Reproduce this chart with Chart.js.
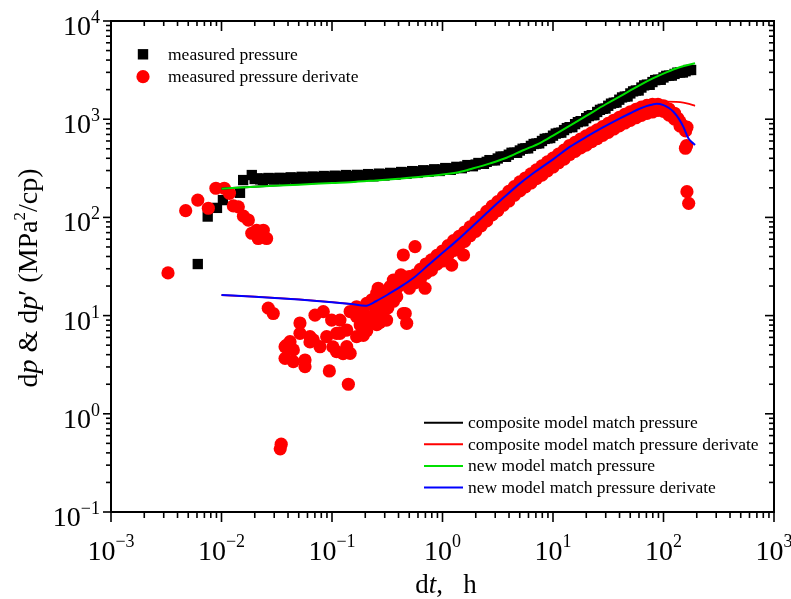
<!DOCTYPE html>
<html><head><meta charset="utf-8">
<script src="https://cdn.jsdelivr.net/npm/chart.js@4.4.1/dist/chart.umd.min.js"></script>
<style>html,body{margin:0;padding:0;background:#fff}#wrap{width:791px;height:599px}</style>
</head><body><div id="wrap"><canvas id="c" width="791" height="599"></canvas></div>
<script>
// ---------------- data ----------------
const xTickExponents = [-3, -2, -1, 0, 1, 2, 3];
const yTickExponents = [-1, 0, 1, 2, 3, 4];
const xTitle = ['d', 't', ',   h'];
const yTitle = ['d', 'p', ' & d', 'p', '\u2032 (MPa', '2', '/cp)'];

// measured pressure (squares)
const measuredPressureT = [0.0061,0.0075,0.0091,0.0103,0.0147,0.0157,0.0188,
 0.01995,0.02239,0.02512,0.02818,0.03162,0.03548,0.03981,0.04467,0.05012,0.05623,
 0.0631,0.07079,0.07943,0.08913,0.1,0.1122,0.1259,0.1413,0.1585,0.1778,
 0.1995,0.2239,0.2512,0.2818,0.3162,0.3548,0.3981,0.4467,0.5012,0.5623,
 0.631,0.7079,0.7943,0.8913,1,1.122,1.259,1.413,1.585,1.778,
 1.995,2.239,2.512,2.818,3.162,3.548,3.981,4.467,5.012,5.623,
 6.31,7.079,7.943,8.913,10,11.22,12.59,14.13,15.85,17.78,
 19.95,22.39,25.12,28.18,31.62,35.48,39.81,44.67,50.12,56.23,
 63.1,70.79,79.43,89.13,100,112.2,125.9,141.3,158.5,177.8,
 0.02113,0.02371,0.02661,0.02985,0.0335,0.03758,0.04217,0.04732,0.05309,0.05957,
 0.06683,0.07499,0.08414,0.09441,0.1059,0.1189,0.1334,0.1496,0.1679,0.1884,
 0.2113,0.2371,0.2661,0.2985,0.335,0.3758,0.4217,0.4732,0.5309,0.5957,
 0.6683,0.7499,0.8414,0.9441,1.059,1.189,1.334,1.496,1.679,1.884,
 2.113,2.371,2.661,2.985,3.35,3.758,4.217,4.732,5.309,5.957,
 6.683,7.499,8.414,9.441,10.59,11.89,13.34,14.96,16.79,18.84,
 21.13,23.71,26.61,29.85,33.5,37.58,42.17,47.32,53.09,59.57,
 66.83,74.99,84.14,94.41,105.9,118.9,133.4,149.6,167.9];
const measuredPressureV = [33.5,102,125,150,178,240,270,
 246,244,248,247,249,248,251,250,253,252,
 255,254,257,258,260,259,262,264,263,266,
 268,267,271,273,275,278,282,284,287,290,
 294,296,300,303,307,312,316,322,329,336,
 345,355,368,382,398,415,435,456,480,505,
 535,565,600,638,680,725,775,830,890,955,
 1025,1100,1185,1275,1370,1470,1580,1700,1830,1960,
 2100,2250,2390,2530,2660,2780,2890,2990,3080,3170,
 250,241,252,243,253,245,256,246,259,248,
 261,250,264,253,266,254,270,257,271,260,
 276,262,279,267,284,272,290,278,296,284,
 302,291,309,297,318,305,327,317,341,332,
 358,351,383,381,416,414,455,455,500,505,
 559,568,630,643,713,730,812,830,933,955,
 1075,1100,1245,1285,1440,1480,1665,1705,1920,1960,
 2210,2240,2500,2520,2760,2780,2980,2990,3170];

// measured pressure derivative (circles)
const measuredDerivT = [
 0.00328,0.00474,0.0061,0.0076,0.0089,0.0106,0.0118,0.0128,0.0142,0.0158,0.0175,0.0188,0.0208,0.0215,0.0239,0.0256,
 0.0265,0.0294,0.0340,0.0347,
 0.0376,0.0376,0.0389,0.0417,0.0447,0.0447,0.0513,0.0513,0.057,0.057,
 0.0632,0.0632,0.0677,0.0702,0.0779,0.0834,0.0895,0.0946,0.0993,0.102,
 0.110,0.110,0.118,0.118,0.126,0.136,0.136,0.1406,0.146,0.146,
 0.167,0.167,0.167,0.18,0.19,0.192,0.2,0.206,0.206,0.206,
 0.22,0.23,0.237,0.24,0.25,0.254,0.254,0.262,0.27,0.27,
 0.28,0.29,0.291,0.3,0.312,0.32,0.335,0.335,0.35,0.359,
 0.36,0.38,0.385,0.385,0.4,0.42,0.43,0.442,0.442,0.46,
 0.474,0.48,0.5,0.564,0.695,1.21,1.55,
 0.5012,0.5623,0.631,0.7079,0.7943,0.8913,1,1.122,1.259,1.413,
 1.585,1.778,1.995,2.239,2.512,2.818,3.162,3.548,3.981,4.467,
 5.012,5.623,6.31,7.079,7.943,8.913,10,11.22,12.59,14.13,
 15.85,17.78,19.95,22.39,25.12,28.18,31.62,35.48,39.81,44.67,
 50.12,56.23,63.1,70.79,79.43,
 0.5012,0.5623,0.631,0.7079,0.7943,0.8913,1,1.122,1.259,1.413,
 1.585,1.778,1.995,2.239,2.512,2.818,3.162,3.548,3.981,4.467,
 5.012,5.623,6.31,7.079,7.943,8.913,10,11.22,12.59,14.13,
 15.85,17.78,19.95,22.39,25.12,28.18,31.62,35.48,39.81,44.67,
 50.12,56.23,63.1,70.79,79.43,
 89.13,89.13,100,100,112.2,112.2,125.9,125.9,135,141.3,141.3,150,158.5,158.5,163,
 158,162,163,169];
const measuredDerivV = [
 27.2,117,150,124,198,198,176,131,128,103,94,69,74,61,74,61,
 11.9,10.5,0.44,0.49,
 4.82,3.67,5.0,5.42,4.47,3.4,8.4,6.6,3.53,3.02,
 6.1,5.4,5.65,10.1,4.82,10.96,6.1,2.73,9.0,4.8,
 6.6,4.29,9.0,6.6,4.1,7.13,4.82,2.0,4.13,11.0,
 6.1,9.75,12.3,8.0,11.5,6.3,10.0,8.35,13.3,7.0,
 9.7,14.5,9.75,12.5,10.2,16.9,8.1,19.0,13.5,8.5,
 17.0,9.0,11.4,14.5,9.0,12.0,16.9,19.7,18.0,23.0,
 14.0,18.5,15.6,23.0,20.0,26.0,21.0,10.5,41.4,10.5,
 8.35,22.5,25.0,50.3,19.0,32.7,41.4,
 24,26,29.5,33.5,37,41,45.5,51.5,58,64,
 71,80,90,101,115,130,145,163,184,206,
 230,252,278,305,335,368,402,440,485,540,
 580,628,675,725,780,840,905,975,1045,1120,
 1190,1260,1325,1380,1420,
 19,21.5,23.5,27,29,33.5,36,41.5,46,52,
 57,65,72,82,92,106,117,133,147,168,
 186,205,224,248,270,298,326,360,392,437,
 470,510,545,590,635,685,735,795,855,915,
 975,1035,1095,1145,1185,
 1420,1230,1370,1200,1270,1100,1150,1000,1020,940,850,860,800,760,830,
 506,540,183,139];

// model curves
const newDerivT = [0.01,0.02,0.05,0.1,0.15,0.2,0.25,0.335,0.45,0.564,0.75,0.95,1.3,1.6,2.0,2.69,3.6,5.03,7,10,14.3,20,28,40.4,50,60,70,80,87,100,112,123,137,151,160,168,180,193];
const newDerivV = [16.2,15.6,14.6,13.7,13.1,12.6,14.0,16.9,20.8,24.9,33,41.5,56,69,87,119,160,222,295,390,525,660,820,1020,1150,1270,1360,1415,1435,1390,1300,1192,1020,839,720,640,585,546];

const compDerivT = [0.01,0.02,0.05,0.1,0.15,0.2,0.25,0.335,0.45,0.564,0.75,0.95,1.3,1.6,2.0,2.69,3.6,5.03,7,10,14.3,20,28,40.4,50,60,70,80,90,107,130,151,170,193];
const compDerivV = [16.2,15.6,14.6,13.7,13.1,12.6,14.0,16.9,20.8,24.9,33,41.5,56,69,87,119,160,222,295,390,525,660,820,1020,1150,1275,1370,1425,1470,1507,1500,1475,1430,1370];

const newPresT = [0.01,0.015,0.03,0.05,0.1,0.146,0.25,0.4,0.7,1,1.43,1.9,2.7,3.8,5.3,7.7,10,15,20,30,40,60,80,106,140,193];
const newPresV = [196,202,210,215,224,228,238,248,262,274,290,316,355,405,480,575,680,890,1080,1420,1700,2200,2600,3000,3380,3710];

const compPresT = [0.01,0.015,0.03,0.1,0.4,1,2.7,5.3,10,20,40,80,140,193];
const compPresV = [196,202,211,228,256,288,365,490,690,1090,1680,2500,3050,3300];

// ---------------- rendering ----------------
const SERIF = "'Liberation Serif','Times New Roman',serif";
const pts = (ts, vs) => ts.map((t, i) => ({x: t, y: vs[i]}));

function drawRich(ctx, segs, x, y, align) {
  let w = 0;
  segs.forEach(s => { ctx.font = s.f; s.w = ctx.measureText(s.t).width; w += s.w; });
  let cx = align === 'center' ? x - w / 2 : align === 'right' ? x - w : x;
  ctx.textAlign = 'left';
  segs.forEach(s => { ctx.font = s.f; ctx.fillText(s.t, cx, y + (s.dy || 0)); cx += s.w; });
}
const expText = e => (e < 0 ? '\u2212' + (-e) : '' + e);

const axesPlugin = {
  id: 'axesPlugin',
  afterDraw(chart) {
    const {ctx, chartArea: a, scales: {x, y}} = chart;
    ctx.save();
    ctx.strokeStyle = '#000'; ctx.fillStyle = '#000';
    ctx.lineWidth = 2;
    ctx.strokeRect(a.left, a.top, a.right - a.left, a.bottom - a.top);
    const seg = (x1, y1, x2, y2) => { ctx.beginPath(); ctx.moveTo(x1, y1); ctx.lineTo(x2, y2); ctx.stroke(); };
    ctx.lineWidth = 1.6;
    for (let i = 0; i < xTickExponents.length; i++) {
      const e = xTickExponents[i];
      for (let m = 1; m < 10; m++) {
        if (i === xTickExponents.length - 1 && m > 1) break;
        const px = x.getPixelForValue(m * Math.pow(10, e));
        const major = m === 1;
        seg(px, a.bottom, px, a.bottom + (major ? 10 : 6));
        seg(px, a.top, px, a.top + (major ? 10 : 5));
      }
    }
    for (let i = 0; i < yTickExponents.length; i++) {
      const e = yTickExponents[i];
      for (let m = 1; m < 10; m++) {
        if (i === yTickExponents.length - 1 && m > 1) break;
        const py = y.getPixelForValue(m * Math.pow(10, e));
        const major = m === 1;
        seg(a.left, py, a.left - (major ? 8 : 5), py);
        seg(a.right, py, a.right - (major ? 9 : 5), py);
      }
    }
    ctx.textBaseline = 'alphabetic';
    xTickExponents.forEach(e => {
      const px = x.getPixelForValue(Math.pow(10, e));
      drawRich(ctx, [{t: '10', f: '28px ' + SERIF}, {t: expText(e), f: '18px ' + SERIF, dy: -13}], px, a.bottom + 48, 'center');
    });
    yTickExponents.forEach(e => {
      const py = y.getPixelForValue(Math.pow(10, e));
      drawRich(ctx, [{t: '10', f: '28px ' + SERIF}, {t: expText(e), f: '18px ' + SERIF, dy: -12}], a.left - 11, py + 14, 'right');
    });
    const tf = '27px ' + SERIF, ti = 'italic 27px ' + SERIF;
    drawRich(ctx, [{t: xTitle[0], f: tf}, {t: xTitle[1], f: ti}, {t: xTitle[2], f: tf}], 446, 593, 'center');
    ctx.save();
    ctx.translate(37, 278);
    ctx.rotate(-Math.PI / 2);
    const yf = '28px ' + SERIF, yi = 'italic 28px ' + SERIF;
    drawRich(ctx, [{t: yTitle[0], f: yf}, {t: yTitle[1], f: yi}, {t: yTitle[2], f: yf}, {t: yTitle[3], f: yi},
      {t: yTitle[4], f: yf}, {t: yTitle[5], f: '17px ' + SERIF, dy: -12}, {t: yTitle[6], f: yf}], 0, 0, 'center');
    ctx.restore();
    const lf = '17.5px ' + SERIF;
    ctx.font = lf;
    ctx.fillStyle = '#000';
    ctx.fillRect(143 - 5.2, 54.3 - 5.2, 10.4, 10.4);
    ctx.fillStyle = '#ff0000';
    ctx.beginPath(); ctx.arc(143, 76.7, 6.6, 0, Math.PI * 2); ctx.fill();
    ctx.fillStyle = '#000';
    ctx.fillText(chart.data.datasets[5].label, 168, 60);
    ctx.fillText(chart.data.datasets[4].label, 168, 82);
    [3, 2, 1, 0].forEach((di, r) => {
      const ds = chart.data.datasets[di];
      const ly = 422.7 + r * 21.6;
      ctx.strokeStyle = ds.borderColor; ctx.lineWidth = 2;
      seg(424, ly, 463, ly);
      ctx.fillStyle = '#000';
      ctx.fillText(ds.label, 468, ly + 5.5);
    });
    ctx.restore();
  }
};

new Chart(document.getElementById('c'), {
  type: 'scatter',
  data: {
    datasets: [
      {label: 'new model match pressure derivate', type: 'line', data: pts(newDerivT, newDerivV), borderColor: '#0000ff', borderWidth: 2, pointRadius: 0, cubicInterpolationMode: 'monotone', fill: false},
      {label: 'new model match pressure', type: 'line', data: pts(newPresT, newPresV), borderColor: '#00e000', borderWidth: 2, pointRadius: 0, cubicInterpolationMode: 'monotone', fill: false},
      {label: 'composite model match pressure derivate', type: 'line', data: pts(compDerivT, compDerivV), borderColor: '#ff0000', borderWidth: 1.8, pointRadius: 0, cubicInterpolationMode: 'monotone', fill: false},
      {label: 'composite model match pressure', type: 'line', data: pts(compPresT, compPresV), borderColor: '#000000', borderWidth: 2, pointRadius: 0, cubicInterpolationMode: 'monotone', fill: false},
      {label: 'measured pressure derivate', data: pts(measuredDerivT, measuredDerivV), pointStyle: 'circle', pointRadius: 6.6, backgroundColor: '#ff0000', borderWidth: 0},
      {label: 'measured pressure', data: pts(measuredPressureT, measuredPressureV), pointStyle: 'rect', pointRadius: 7.3, backgroundColor: '#000000', borderWidth: 0}
    ]
  },
  options: {
    responsive: false, animation: false, events: [],
    layout: {padding: {left: 111, top: 21, right: 17, bottom: 87}},
    scales: {
      x: {type: 'logarithmic', min: 0.001, max: 1000, display: false},
      y: {type: 'logarithmic', min: 0.1, max: 10000, display: false}
    },
    plugins: {legend: {display: false}, tooltip: {enabled: false}}
  },
  plugins: [axesPlugin]
});
</script>
</body></html>
